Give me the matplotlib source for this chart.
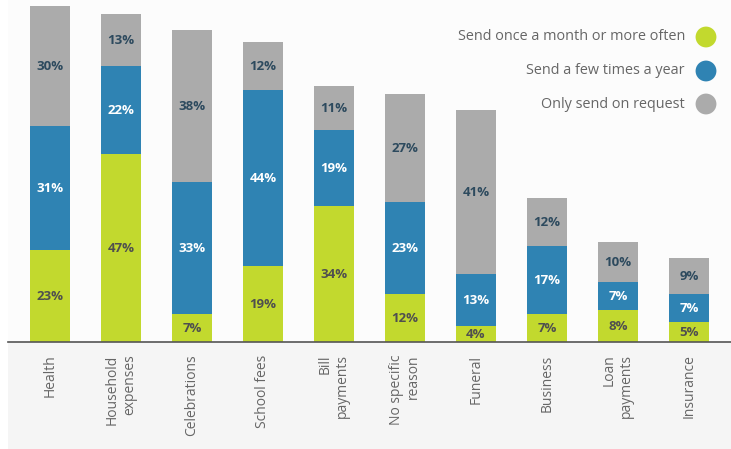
import matplotlib.pyplot as plt
from matplotlib.patches import Rectangle
import numpy as np


categories = ['Health', 'Household\nexpenses', 'Celebrations', 'School fees', 'Bill\npayments',
              'No specific\nreason', 'Funeral', 'Business', 'Loan\npayments', 'Insurance']
monthly = [23, 47, 7, 19, 34, 12, 4, 7, 8, 5]
few_times = [31, 22, 33, 44, 19, 23, 13, 17, 7, 7]
on_request = [30, 13, 38, 12, 11, 27, 41, 12, 10, 9]
series_names = ['Send once a month or more often', 'Send a few times a year', 'Only send on request']

colours = ['#c2d92e', '#2f83b3', '#ababab']
text_colours = ['#4f4f4f', '#ffffff', '#2d4a5e']
font_name = 'Open Sans'

W, H = 731, 449
fig = plt.figure(figsize=(W / 100, H / 100), dpi=100)
fig.patch.set_facecolor('white')

# light grey panel behind the category labels
fig.add_artist(Rectangle((8 / W, 0), 1 - 8 / W, 1 - 342 / H, transform=fig.transFigure,
                         facecolor='#f5f5f5', edgecolor='none', zorder=0))

ax = fig.add_axes([8 / W, 1 - 342 / H, 1 - 8 / W, 342 / H])
ax.set_facecolor('#fcfcfc')

x = np.arange(len(categories))
width = 40 / 71.
bottom = np.zeros(len(categories))
for vals, col, tcol in zip([monthly, few_times, on_request], colours, text_colours):
  vals = np.array(vals, dtype=float)
  ax.bar(x, vals, width, bottom=bottom, color=col, edgecolor='none', zorder=2)
  for xi, b, v in zip(x, bottom, vals):
    ax.text(xi, b + v / 2., '%d%%' % v, ha='center', va='center', color=tcol,
            fontsize=9.5, fontweight='bold', family=font_name, zorder=3)
  bottom += vals

ax.set_xlim(-42 / 71., 9 + 42 / 71.)
ax.set_ylim(0, 85.5)
ax.set_yticks([])
ax.set_xticks(x)
ax.set_xticklabels(categories, rotation=90, va='top', ha='center', multialignment='right',
                   fontsize=10, color='#666666', family=font_name)
ax.tick_params(axis='x', length=0, pad=9)
for s in ['top', 'left', 'right']:
  ax.spines[s].set_visible(False)
ax.spines['bottom'].set_color('#555555')
ax.spines['bottom'].set_linewidth(1.2)

# legend drawn by hand: label right-aligned, dot to its right
legend_rows = [37, 71, 104]
for name, col, row in zip(series_names, colours, legend_rows):
  fig.text(685 / W, 1 - row / H, name, ha='right', va='center', fontsize=10.4,
           color='#666666', family=font_name)
  ax.scatter([706 / W], [1 - row / H], s=15 ** 2, color=col, edgecolors='none',
             transform=fig.transFigure, clip_on=False, zorder=4)

plt.savefig('out.png', dpi=100, facecolor=fig.get_facecolor())
